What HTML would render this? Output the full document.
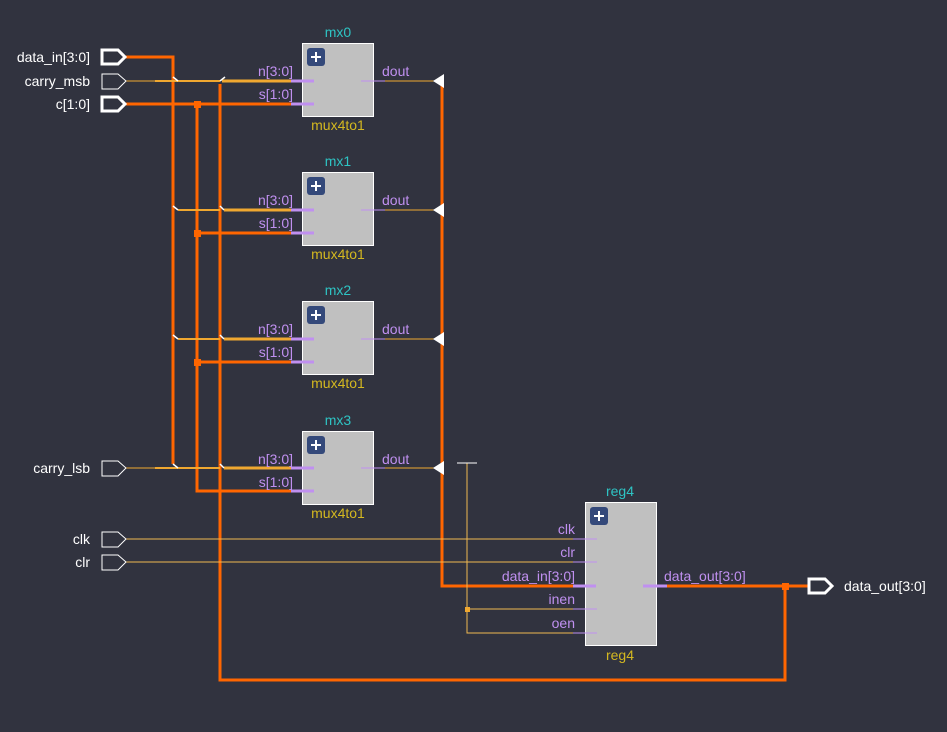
<!DOCTYPE html>
<html><head><style>
html,body{margin:0;padding:0;background:#31333f;}
svg{display:block;font-family:"Liberation Sans",sans-serif;font-size:14px;}
</style></head><body>
<svg width="947" height="732" viewBox="0 0 947 732" xmlns="http://www.w3.org/2000/svg">
<rect width="947" height="732" fill="#31333f"/>
<g fill="none" stroke-linejoin="miter">
<polyline points="126,57 173,57 173,464" stroke="#ff6600" stroke-width="3"/>
<polyline points="126,104 302,104" stroke="#ff6600" stroke-width="3"/>
<polyline points="197,104 197,491 302,491" stroke="#ff6600" stroke-width="3"/>
<line x1="197" y1="233" x2="302" y2="233" stroke="#ff6600" stroke-width="3"/>
<line x1="197" y1="362" x2="302" y2="362" stroke="#ff6600" stroke-width="3"/>
<polyline points="220,84 220,680 785,680 785,586" stroke="#ff6600" stroke-width="3"/>
<polyline points="442,81 442,586 597,586" stroke="#ff6600" stroke-width="3"/>
<polyline points="656,586 808,586" stroke="#ff6600" stroke-width="3"/>
<line x1="126" y1="81" x2="155" y2="81" stroke="#f0a830" stroke-width="1"/>
<line x1="155" y1="81" x2="220" y2="81" stroke="#f0a830" stroke-width="2"/>
<line x1="222" y1="81" x2="302" y2="81" stroke="#f0a830" stroke-width="3"/>
<line x1="178" y1="210" x2="220" y2="210" stroke="#f0a830" stroke-width="2"/>
<line x1="224" y1="210" x2="302" y2="210" stroke="#f0a830" stroke-width="3"/>
<line x1="178" y1="339" x2="220" y2="339" stroke="#f0a830" stroke-width="2"/>
<line x1="224" y1="339" x2="302" y2="339" stroke="#f0a830" stroke-width="3"/>
<line x1="126" y1="468" x2="155" y2="468" stroke="#f0a830" stroke-width="1"/>
<line x1="155" y1="468" x2="220" y2="468" stroke="#f0a830" stroke-width="2"/>
<line x1="224" y1="468" x2="302" y2="468" stroke="#f0a830" stroke-width="3"/>
<line x1="385" y1="81" x2="436" y2="81" stroke="#f0a830" stroke-width="1"/>
<line x1="385" y1="210" x2="436" y2="210" stroke="#f0a830" stroke-width="1"/>
<line x1="385" y1="339" x2="436" y2="339" stroke="#f0a830" stroke-width="1"/>
<line x1="385" y1="468" x2="436" y2="468" stroke="#f0a830" stroke-width="1"/>
<line x1="126" y1="539" x2="585" y2="539" stroke="#f0b850" stroke-width="1"/>
<line x1="126" y1="562" x2="585" y2="562" stroke="#f0b850" stroke-width="1"/>
<polyline points="467,463 467,633 585,633" stroke="#f0b850" stroke-width="1"/>
<line x1="467" y1="609" x2="585" y2="609" stroke="#f0b850" stroke-width="1"/>
<line x1="457" y1="463" x2="477" y2="463" stroke="#ffffff" stroke-width="1"/>
<g stroke="#ffffff" stroke-width="1.5">
<line x1="173" y1="77" x2="178" y2="81"/><line x1="220" y1="81" x2="225" y2="77"/>
<line x1="173" y1="206" x2="178" y2="210"/><line x1="220" y1="206" x2="224" y2="210"/>
<line x1="173" y1="335" x2="178" y2="339"/><line x1="220" y1="335" x2="224" y2="339"/>
<line x1="173" y1="464" x2="178" y2="468"/><line x1="220" y1="464" x2="224" y2="468"/>
</g>
</g>
<g fill="#ff6600">
<rect x="194" y="101" width="7" height="7"/><rect x="194" y="230" width="7" height="7"/><rect x="194" y="359" width="7" height="7"/>
<rect x="782" y="583" width="7" height="7"/>
</g>
<rect x="465" y="607" width="5" height="5" fill="#f0a830"/>
<g fill="#ffffff">
<polygon points="433,81 444,74 444,88"/><polygon points="433,210 444,203 444,217"/>
<polygon points="433,339 444,332 444,346"/><polygon points="433,468 444,461 444,475"/>
</g>
<g fill="none" stroke="#ffffff">
<polygon points="102,50 118,50 125,57 118,64 102,64" stroke-width="3"/>
<polygon points="102,74 118,74 126,81 118,89 102,89" stroke-width="1"/>
<polygon points="102,97 118,97 125,104 118,111 102,111" stroke-width="3"/>
<polygon points="102,461 118,461 126,468 118,476 102,476" stroke-width="1"/>
<polygon points="102,532 118,532 126,539 118,547 102,547" stroke-width="1"/>
<polygon points="102,555 118,555 126,562 118,570 102,570" stroke-width="1"/>
<polygon points="809,579 825,579 832,586 825,593 809,593" stroke-width="3"/>
</g>
<g fill="#ffffff" text-anchor="end">
<text x="90" y="62">data_in[3:0]</text>
<text x="90" y="86">carry_msb</text>
<text x="90" y="109">c[1:0]</text>
<text x="90" y="473">carry_lsb</text>
<text x="90" y="544">clk</text>
<text x="90" y="567">clr</text>
</g>
<text x="844" y="591" fill="#ffffff">data_out[3:0]</text>
<g>
<rect x="302.5" y="43.5" width="71" height="73" fill="#c0c0c0" stroke="#ffffff"/>
<rect x="302.5" y="172.5" width="71" height="73" fill="#c0c0c0" stroke="#ffffff"/>
<rect x="302.5" y="301.5" width="71" height="73" fill="#c0c0c0" stroke="#ffffff"/>
<rect x="302.5" y="431.5" width="71" height="73" fill="#c0c0c0" stroke="#ffffff"/>
<rect x="585.5" y="502.5" width="71" height="143" fill="#c0c0c0" stroke="#ffffff"/>
</g>
<g fill="#34497a">
<rect x="307" y="48" width="18" height="18" rx="3"/><rect x="307" y="177" width="18" height="18" rx="3"/>
<rect x="307" y="306" width="18" height="18" rx="3"/><rect x="307" y="436" width="18" height="18" rx="3"/>
<rect x="590" y="507" width="18" height="18" rx="3"/>
</g>
<g stroke="#ffffff" stroke-width="2">
<path d="M316 52v10M311 57h10"/><path d="M316 181v10M311 186h10"/><path d="M316 310v10M311 315h10"/><path d="M316 440v10M311 445h10"/><path d="M599 511v10M594 516h10"/>
</g>
<g stroke="#c090f0">
<g stroke-width="3">
<line x1="291" y1="81" x2="314" y2="81"/><line x1="291" y1="104" x2="314" y2="104"/>
<line x1="291" y1="210" x2="314" y2="210"/><line x1="291" y1="233" x2="314" y2="233"/>
<line x1="291" y1="339" x2="314" y2="339"/><line x1="291" y1="362" x2="314" y2="362"/>
<line x1="291" y1="468" x2="314" y2="468"/><line x1="291" y1="491" x2="314" y2="491"/>
<line x1="573" y1="586" x2="596" y2="586"/><line x1="643" y1="586" x2="667" y2="586"/>
</g>
<g stroke-width="1">
<line x1="361" y1="81" x2="385" y2="81"/><line x1="361" y1="210" x2="385" y2="210"/>
<line x1="361" y1="339" x2="385" y2="339"/><line x1="361" y1="468" x2="385" y2="468"/>
<line x1="573" y1="539" x2="597" y2="539"/><line x1="573" y1="562" x2="597" y2="562"/>
<line x1="573" y1="609" x2="597" y2="609"/><line x1="573" y1="633" x2="597" y2="633"/>
</g>
</g>
<g fill="#c090f0">
<g text-anchor="end">
<text x="293" y="76">n[3:0]</text><text x="293" y="99">s[1:0]</text>
<text x="293" y="205">n[3:0]</text><text x="293" y="228">s[1:0]</text>
<text x="293" y="334">n[3:0]</text><text x="293" y="357">s[1:0]</text>
<text x="293" y="464">n[3:0]</text><text x="293" y="487">s[1:0]</text>
<text x="575" y="534">clk</text><text x="575" y="557">clr</text>
<text x="575" y="581">data_in[3:0]</text><text x="575" y="604">inen</text><text x="575" y="628">oen</text>
</g>
<text x="382" y="76">dout</text><text x="382" y="205">dout</text><text x="382" y="334">dout</text><text x="382" y="464">dout</text>
<text x="664" y="581">data_out[3:0]</text>
</g>
<g fill="#2ec4c4" text-anchor="middle">
<text x="338" y="37">mx0</text><text x="338" y="166">mx1</text><text x="338" y="295">mx2</text><text x="338" y="425">mx3</text>
<text x="620" y="496">reg4</text>
</g>
<g fill="#d4b820" text-anchor="middle">
<text x="338" y="130">mux4to1</text><text x="338" y="259">mux4to1</text><text x="338" y="388">mux4to1</text><text x="338" y="518">mux4to1</text>
<text x="620" y="660">reg4</text>
</g>
</svg>
</body></html>
